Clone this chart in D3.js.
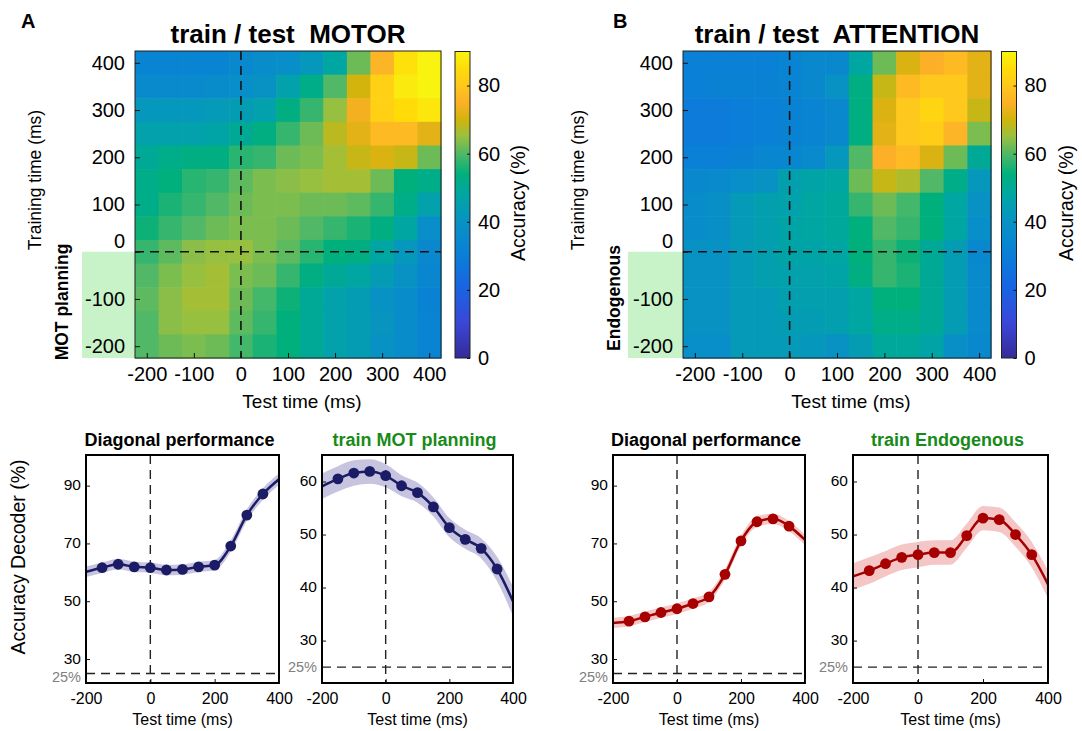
<!DOCTYPE html>
<html>
<head>
<meta charset="utf-8">
<script src="https://cdn.jsdelivr.net/npm/d3@7"></script>
<style>
  body { margin: 0; background: #fff; }
  svg text { font-family: "Liberation Sans", Arial, sans-serif; }
</style>
</head>
<body>
<svg id="fig" width="1082" height="731"></svg>
<script>
// --- data ---
var testTimes = [-200, -150, -100, -50, 0, 50, 100, 150, 200, 250, 300, 350, 400];
var trainTimes = [400, 350, 300, 250, 200, 150, 100, 50, 0, -50, -100, -150, -200];

// rows = training time (400 at top), cols = test time
var motorAcc = [
  [33, 33, 33, 33, 35, 37, 38, 42, 48, 62, 76, 86, 90],
  [36, 36, 36, 37, 38, 40, 46, 52, 60, 70, 82, 88, 90],
  [42, 42, 42, 43, 44, 46, 53, 58, 65, 74, 82, 85, 87],
  [46, 46, 46, 47, 50, 53, 58, 62, 68, 72, 77, 77, 72],
  [50, 52, 53, 53, 57, 58, 62, 63, 66, 69, 71, 69, 62],
  [52, 54, 57, 58, 61, 63, 64, 65, 66, 66, 62, 54, 52],
  [52, 56, 58, 60, 62, 63, 63, 62, 62, 61, 58, 52, 46],
  [55, 58, 60, 62, 63, 63, 62, 60, 58, 56, 53, 48, 38],
  [58, 61, 64, 65, 65, 63, 61, 57, 54, 53, 48, 42, 35],
  [60, 63, 65, 66, 63, 62, 58, 53, 50, 48, 44, 40, 34],
  [61, 64, 66, 66, 62, 59, 55, 50, 46, 44, 40, 37, 32],
  [60, 64, 65, 65, 61, 58, 54, 50, 46, 44, 41, 37, 33],
  [60, 62, 63, 62, 59, 56, 54, 50, 46, 44, 40, 37, 33]
];

var attentionAcc = [
  [31, 31, 31, 31, 33, 35, 35, 48, 62, 71, 75, 77, 72],
  [31, 32, 32, 32, 33, 35, 40, 53, 69, 77, 80, 80, 72],
  [29, 29, 30, 31, 32, 33, 35, 53, 71, 80, 83, 80, 69],
  [29, 29, 30, 31, 32, 33, 35, 53, 72, 80, 81, 76, 63],
  [31, 31, 32, 34, 34, 36, 42, 60, 75, 77, 71, 62, 50],
  [35, 36, 38, 40, 45, 47, 48, 62, 69, 67, 60, 52, 42],
  [37, 39, 43, 45, 46, 48, 49, 58, 62, 59, 54, 48, 40],
  [37, 39, 43, 45, 47, 48, 49, 54, 60, 58, 54, 48, 38],
  [40, 40, 43, 45, 47, 47, 48, 54, 58, 55, 50, 44, 35],
  [40, 40, 43, 45, 46, 46, 47, 53, 58, 56, 50, 44, 36],
  [40, 40, 43, 43, 45, 45, 45, 48, 54, 54, 50, 44, 36],
  [40, 40, 43, 43, 44, 44, 45, 48, 52, 52, 50, 44, 36],
  [38, 38, 43, 43, 43, 42, 40, 44, 49, 49, 47, 39, 35]
];

var lineTimes = [-200, -150, -100, -50, 0, 50, 100, 150, 200, 250, 300, 350, 400];
var diagMotor = [60.2, 61.6, 62.8, 61.9, 61.6, 60.8, 61.0, 61.9, 62.5, 69.1, 79.8, 87.1, 92.2];
var semDiagMotor = [1.8, 1.8, 1.8, 1.8, 1.8, 1.8, 1.8, 1.8, 1.8, 2.0, 2.0, 2.0, 2.0];
var planMotor = [59.1, 60.5, 61.6, 61.9, 61.1, 59.2, 57.9, 55.2, 51.3, 49.1, 47.4, 43.5, 37.4];
var semPlanMotor = [2.4, 2.4, 2.4, 2.3, 2.2, 2.0, 1.9, 1.8, 1.8, 1.8, 1.9, 2.3, 2.8];
var diagAttention = [42.5, 43.1, 44.6, 46.1, 47.4, 49.2, 51.5, 59.3, 70.9, 77.5, 78.5, 76.0, 71.2];
var semDiagAttention = [1.8, 1.8, 1.8, 1.8, 1.8, 1.8, 1.8, 1.8, 1.8, 1.8, 1.8, 1.8, 1.8];
var endoAttention = [42.1, 43.2, 44.5, 45.7, 46.2, 46.6, 46.6, 49.8, 53.1, 52.8, 50.0, 46.2, 40.6];
var semEndoAttention = [2.5, 2.5, 2.4, 2.4, 2.4, 2.3, 2.3, 2.3, 2.3, 2.3, 2.3, 2.4, 2.6];

var heatTicks = [-200, -100, 0, 100, 200, 300, 400];
var cbarTicks = [0, 20, 40, 60, 80];
var diagTicks = [30, 50, 70, 90];
var trainTicks = [30, 40, 50, 60];
var lineXTicks = [-200, 0, 200, 400];

// parula-like colormap, 0..90 %
var cmapStops = [0, 10, 20, 30, 40, 48, 54, 60, 65, 70, 75, 80, 85, 90];
var cmapColors = ["#352a98", "#3b46d6", "#1a62e2", "#0a7ed8", "#0892c4", "#00a6a2", "#00b07c",
                  "#50b866", "#98c040", "#d2b40c", "#fbb028", "#ffc81c", "#ffdc08", "#f8f410"];
var color = d3.scaleLinear().domain(cmapStops).range(cmapColors).interpolate(d3.interpolateRgb).clamp(true);

var FONT = '"Liberation Sans", Arial, sans-serif';
var plain = function(d) { return String(d); };   // hyphen minus like the original
var svg = d3.select("#fig");
var defs = svg.append("defs");

function styleAxis(sel, size) {
  sel.attr("font-size", size).attr("font-family", FONT);
  sel.select(".domain").remove();
  sel.selectAll(".tick line").attr("stroke", "#111");
  sel.selectAll(".tick text").attr("fill", "#000");
}

function heatmap(o) {
  var x = d3.scaleLinear().domain([-225, 425]).range([o.x0, o.x1]);
  var y = d3.scaleLinear().domain([-225, 425]).range([358, 51]);
  var g = svg.append("g");

  // green box marking the training epoch
  g.append("rect")
    .attr("x", o.boxX).attr("y", y(0))
    .attr("width", x(-225) - o.boxX).attr("height", y(-225) - y(0))
    .attr("fill", "#c8f2c8");

  var cells = [];
  o.values.forEach(function(row, i) {
    row.forEach(function(v, j) {
      cells.push({tr: trainTimes[i], te: testTimes[j], v: v});
    });
  });
  g.selectAll("rect.cell").data(cells).join("rect")
    .attr("class", "cell")
    .attr("x", function(d) { return x(d.te - 25); })
    .attr("y", function(d) { return y(d.tr + 25); })
    .attr("width", x(25) - x(-25) + 0.6)
    .attr("height", y(-25) - y(25) + 0.6)
    .attr("fill", function(d) { return color(d.v); });

  g.append("line").attr("x1", x(0)).attr("x2", x(0)).attr("y1", y(425)).attr("y2", y(-225))
    .attr("stroke", "#111").attr("stroke-width", 1.6).attr("stroke-dasharray", "9,6");
  g.append("line").attr("x1", x(-225)).attr("x2", x(425)).attr("y1", y(0)).attr("y2", y(0))
    .attr("stroke", "#111").attr("stroke-width", 1.6).attr("stroke-dasharray", "9,6");

  g.append("rect").attr("x", x(-225)).attr("y", y(425))
    .attr("width", x(425) - x(-225)).attr("height", y(-225) - y(425))
    .attr("fill", "none").attr("stroke", "#222").attr("stroke-width", 1);

  var ax = g.append("g").attr("transform", "translate(0," + y(-225) + ")")
    .call(d3.axisBottom(x).tickValues(heatTicks).tickFormat(plain).tickSize(-5).tickPadding(9));
  styleAxis(ax, 20);
  var ay = g.append("g").attr("transform", "translate(" + x(-225) + ",0)")
    .call(d3.axisLeft(y).tickValues(heatTicks).tickFormat(plain).tickSize(-5).tickPadding(10));
  styleAxis(ay, 20);
  ay.selectAll(".tick").filter(function(d) { return d === 0; }).select("text").attr("dy", "-0.23em");

  g.append("text").attr("x", (x(-225) + x(425)) / 2 + 14).attr("y", 408)
    .attr("text-anchor", "middle").attr("font-size", 19).text("Test time (ms)");
  g.append("text").attr("transform", "translate(" + o.ylabX + ",180) rotate(-90)")
    .attr("text-anchor", "middle").attr("font-size", 17.5).text("Training time (ms)");
  g.append("text").attr("transform", "translate(" + o.epochX + "," + o.epochY + ") rotate(-90)")
    .attr("text-anchor", "middle").attr("font-size", 17.5).attr("font-weight", "bold").text(o.epoch);

  g.append("text").attr("x", (x(-225) + x(425)) / 2).attr("y", 43)
    .attr("text-anchor", "middle").attr("font-size", 26).attr("font-weight", "bold")
    .style("white-space", "pre").text(o.title);
  g.append("text").attr("x", o.letterX).attr("y", 28)
    .attr("font-size", 20).attr("font-weight", "bold").text(o.letter);
}

function colorbar(o) {
  var y = d3.scaleLinear().domain([0, 90]).range([358, 51.5]);
  var grad = defs.append("linearGradient").attr("id", o.id)
    .attr("x1", 0).attr("y1", 1).attr("x2", 0).attr("y2", 0);
  grad.selectAll("stop").data(d3.range(0, 91, 1)).join("stop")
    .attr("offset", function(d) { return d / 90; })
    .attr("stop-color", function(d) { return color(d); });
  var g = svg.append("g");
  g.append("rect").attr("x", o.x0).attr("y", y(90)).attr("width", 15).attr("height", y(0) - y(90))
    .attr("fill", "url(#" + o.id + ")").attr("stroke", "#222").attr("stroke-width", 1);
  var ax = g.append("g").attr("transform", "translate(" + (o.x0 + 15) + ",0)")
    .call(d3.axisRight(y).tickValues(cbarTicks).tickSize(-3).tickPadding(8));
  styleAxis(ax, 20);
  g.append("text").attr("transform", "translate(" + o.labX + ",203) rotate(-90)")
    .attr("text-anchor", "middle").attr("font-size", 19.5).text("Accuracy (%)");
}

function linePanel(o) {
  var x = d3.scaleLinear().domain([-200, 400]).range([o.x0, o.x1]);
  var y = d3.scaleLinear().domain(o.yDomain).range([683, 455]);
  var g = svg.append("g");
  defs.append("clipPath").attr("id", o.id).append("rect")
    .attr("x", o.x0).attr("y", 455).attr("width", o.x1 - o.x0).attr("height", 228);

  var band = d3.area()
    .x(function(d, i) { return x(lineTimes[i]); })
    .y0(function(d, i) { return y(d - o.sem[i]); })
    .y1(function(d, i) { return y(d + o.sem[i]); })
    .curve(d3.curveMonotoneX);
  var line = d3.line()
    .x(function(d, i) { return x(lineTimes[i]); })
    .y(function(d) { return y(d); })
    .curve(d3.curveMonotoneX);

  var inner = g.append("g").attr("clip-path", "url(#" + o.id + ")");
  inner.append("path").datum(o.mean).attr("d", band).attr("fill", o.bandColor);
  inner.append("line").attr("x1", x(0)).attr("x2", x(0)).attr("y1", 455).attr("y2", 683)
    .attr("stroke", "#222").attr("stroke-width", 1.4).attr("stroke-dasharray", "9,6");
  inner.append("line").attr("x1", o.x0).attr("x2", o.x1).attr("y1", y(25)).attr("y2", y(25))
    .attr("stroke", "#222").attr("stroke-width", 1.4).attr("stroke-dasharray", "9,6");
  inner.append("path").datum(o.mean).attr("d", line)
    .attr("fill", "none").attr("stroke", o.lineColor).attr("stroke-width", 2.5);
  inner.selectAll("circle").data(o.mean.slice(1, 12)).join("circle")
    .attr("cx", function(d, i) { return x(lineTimes[i + 1]); })
    .attr("cy", function(d) { return y(d); })
    .attr("r", 5.4).attr("fill", o.lineColor);

  g.append("rect").attr("x", o.x0).attr("y", 455).attr("width", o.x1 - o.x0).attr("height", 228)
    .attr("fill", "none").attr("stroke", "#000").attr("stroke-width", 2);

  var ax = g.append("g").attr("transform", "translate(0,683)")
    .call(d3.axisBottom(x).tickValues(lineXTicks).tickFormat(plain).tickSize(-4).tickPadding(10));
  styleAxis(ax, 16);
  var ay = g.append("g").attr("transform", "translate(" + o.x0 + ",0)")
    .call(d3.axisLeft(y).tickValues(o.yTicks).tickSize(-4).tickPadding(5));
  styleAxis(ay, 15.5);
  ay.selectAll(".tick text").attr("dy", "0.28em");

  g.append("text").attr("x", o.x0 - 5).attr("y", y(25) + o.pctShift).attr("dy", "0.35em")
    .attr("text-anchor", "end").attr("font-size", 14.5).attr("fill", "#808080").text("25%");
  g.append("text").attr("x", (o.x0 + o.x1) / 2).attr("y", 725)
    .attr("text-anchor", "middle").attr("font-size", 16).text("Test time (ms)");
  g.append("text").attr("x", (o.x0 + o.x1) / 2 - 3).attr("y", 446)
    .attr("text-anchor", "middle").attr("font-size", 18).attr("font-weight", "bold")
    .attr("fill", o.titleColor).text(o.title);
}

heatmap({x0: 135, x1: 441, values: motorAcc, boxX: 82, ylabX: 41, epochX: 68, epochY: 302,
         epoch: "MOT planning", title: "train / test  MOTOR", letter: "A", letterX: 21});
heatmap({x0: 683, x1: 991, values: attentionAcc, boxX: 628, ylabX: 584, epochX: 620, epochY: 298,
         epoch: "Endogenous", title: "train / test  ATTENTION", letter: "B", letterX: 613});
colorbar({id: "cbA", x0: 455, labX: 525});
colorbar({id: "cbB", x0: 1001.5, labX: 1073});

var navy = "#1c1c66", navyBand = "#c6c4df";
var red = "#a60000", redBand = "#f5c6c6";
var green = "#178a17";

linePanel({id: "c1", x0: 86, x1: 279, yDomain: [21.7, 100.6], yTicks: diagTicks, mean: diagMotor, sem: semDiagMotor,
           lineColor: navy, bandColor: navyBand, title: "Diagonal performance", titleColor: "#000", pctShift: 3});
linePanel({id: "c2", x0: 322, x1: 513, yDomain: [22, 65], yTicks: trainTicks, mean: planMotor, sem: semPlanMotor,
           lineColor: navy, bandColor: navyBand, title: "train MOT planning", titleColor: green, pctShift: 0});
linePanel({id: "c3", x0: 613, x1: 805, yDomain: [21.7, 100.6], yTicks: diagTicks, mean: diagAttention, sem: semDiagAttention,
           lineColor: red, bandColor: redBand, title: "Diagonal performance", titleColor: "#000", pctShift: 3});
linePanel({id: "c4", x0: 853, x1: 1048, yDomain: [22, 65], yTicks: trainTicks, mean: endoAttention, sem: semEndoAttention,
           lineColor: red, bandColor: redBand, title: "train Endogenous", titleColor: green, pctShift: 0});

svg.append("text").attr("transform", "translate(25,557) rotate(-90)")
  .attr("text-anchor", "middle").attr("font-size", 19.5).text("Accuracy Decoder (%)");
</script>
</body>
</html>
